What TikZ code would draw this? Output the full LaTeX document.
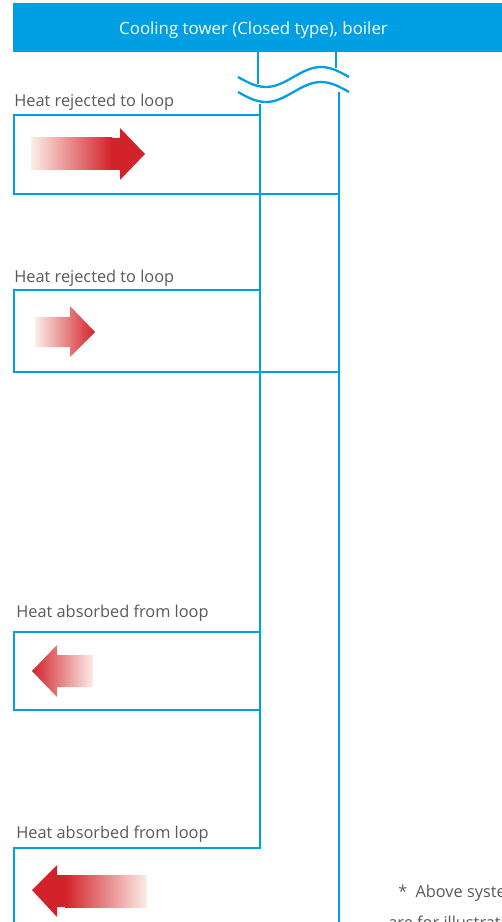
\documentclass[tikz,border=0pt]{standalone}
\usepackage{fontspec}
\setmainfont{Open Sans}
\usetikzlibrary{positioning}
\definecolor{pipec}{HTML}{009FE3}
\definecolor{hotc}{HTML}{D2232A}
\definecolor{midc}{HTML}{E2806A}
\definecolor{palec}{HTML}{FCEDE8}
\definecolor{txtc}{HTML}{595959}
\tikzset{
  pipe/.style={pipec,line width=1.4pt},
  wavy/.style={pipec,line width=1.3pt},
  lbl/.style={txtc,font=\fontsize{9.3}{11}\selectfont,anchor=base west,inner sep=0pt},
  ttl/.style={white,font=\fontsize{9.6}{11}\selectfont,anchor=base,inner sep=0pt},
  note/.style={txtc,font=\fontsize{9.3}{11}\selectfont,anchor=base west,inner sep=0pt},
  toright/.style={left color=palec,middle color=midc,right color=hotc},
  toleft/.style={left color=hotc,middle color=midc,right color=palec},
}
\begin{document}
\begin{tikzpicture}[x=0.02cm,y=-0.02cm]
  \useasboundingbox (0,0) rectangle (502,922);
  \clip (0,0) rectangle (502,922);
  % header bar
  \fill[pipec] (13,3) rectangle (502,52);
  \node[ttl] (head) at (253.5,35) {Cooling tower (Closed type), boiler};
  % stubs above the break
  \draw[pipe] (258,52) -- (258,84);
  \draw[pipe] (336,52) -- (336,68);
  \foreach \dy in {0,15}
    \draw[wavy] (238,77+\dy) sin (266,87+\dy) cos (293.5,77+\dy) sin (321,67+\dy) cos (349,77+\dy);
  % loop pipes
  \coordinate (rtop) at (339,92);
  \coordinate (rbot) at (339,930);
  \coordinate (ltop) at (260,104);
  \coordinate (lbot) at (260,848);
  \draw[pipe] (rtop) -- (rbot);
  \draw[pipe] (ltop) -- (lbot) -- (14,848) -- (14,930);
  % units
  \draw[pipe] (260,115) -- (14,115) -- (14,194) -- (339,194);
  \draw[pipe] (260,290) -- (14,290) -- (14,372) -- (339,372);
  \draw[pipe] (260,632) -- (14,632) -- (14,710) -- (260,710);
  \node[lbl] (lbl1) at (14,107) {Heat rejected to loop};
  \node[lbl] (lbl2) at (14,282) {Heat rejected to loop};
  \node[lbl] (lbl3) at (16,617) {Heat absorbed from loop};
  \node[lbl] (lbl4) at (16,838) {Heat absorbed from loop};
  % heat arrows
  \shade[toright] (31,138) rectangle (112,170);
  \fill[hotc] (111,138) -- (120,138) -- (120,128) -- (145,154) -- (120,180) -- (120,170) -- (111,170) -- cycle;
  \shade[toright] (35,317) -- (70,317) -- (70,306) -- (95,332) -- (70,357) -- (70,347) -- (35,347) -- cycle;
  \shade[toleft] (32,671) -- (57,645) -- (57,655) -- (93,655) -- (93,687) -- (57,687) -- (57,697) -- cycle;
  \fill[hotc] (32,890) -- (57,865) -- (57,875) -- (66,875) -- (66,907) -- (57,907) -- (57,917) -- cycle;
  \shade[toleft] (65,875) rectangle (147,907);
  % footnote
  \node[note] (note1) at (398,897) {*\enspace Above systems};
  \node[note] (note2) at (388,928) {are for illustration};
\end{tikzpicture}
\end{document}
